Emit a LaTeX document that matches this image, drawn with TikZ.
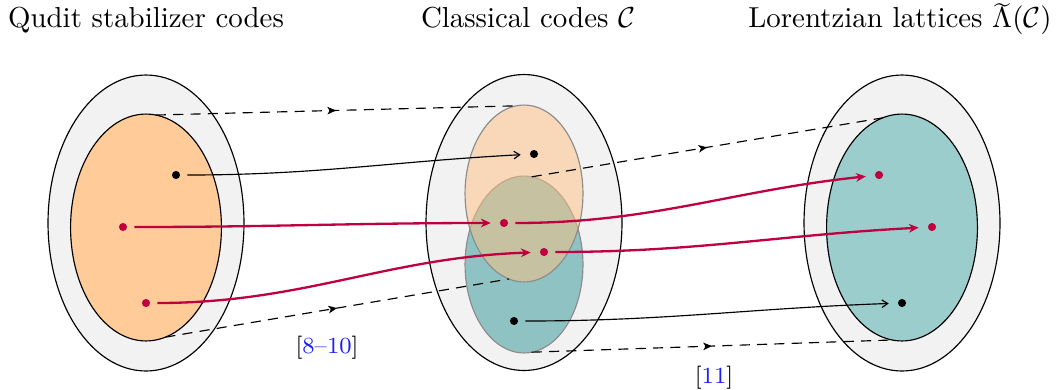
\documentclass[tikz,border=0pt]{standalone}
\usetikzlibrary{shapes.geometric,arrows.meta,decorations.markings}
\definecolor{orangeA}{RGB}{254,203,153}
\definecolor{tealA}{RGB}{155,205,205}
\definecolor{tealM}{RGB}{143,195,195}
\definecolor{orangeM}{RGB}{254,192,128}
\definecolor{outerG}{RGB}{242,242,242}
\definecolor{linkred}{RGB}{191,0,64}
\definecolor{citeblue}{RGB}{30,30,255}
\begin{document}
\begin{tikzpicture}[x=0.346pt,y=-0.346pt,
 region/.style={ellipse, draw=black, line width=0.4pt, inner sep=0pt, outer sep=0pt},
 outerreg/.style={region, fill=outerG, minimum width=67.8pt, minimum height=102.4pt},
 innerreg/.style={region, minimum width=52.2pt, minimum height=78.5pt},
 midreg/.style={region, draw=black!45, minimum width=40.8pt, minimum height=61.2pt},
 dotnode/.style={circle, inner sep=0pt, outer sep=0pt, minimum size=2.8pt},
 bdot/.style={dotnode, fill=black},
 rdot/.style={dotnode, fill=linkred},
 blink/.style={-{Straight Barb[length=2pt,width=2.6pt]}, shorten <=2.5pt, shorten >=3.2pt, line width=0.4pt},
 rlink/.style={-{Stealth[length=3.4pt,width=3pt,inset=1.1pt]}, draw=linkred, line width=0.8pt, shorten <=2.5pt, shorten >=3.2pt},
 embed/.style={dash pattern=on 3.5pt off 2.5pt, line width=0.4pt, postaction={decorate},
   decoration={markings, mark=at position 0.5 with {\arrow{Stealth[length=3pt,width=2.6pt,inset=0.8pt]}}}},
 titletext/.style={anchor=base, inner sep=0pt},
 citetext/.style={inner sep=0pt, font=\footnotesize}]
\useasboundingbox (0,0) rectangle (1056,389);

% titles
\node[titletext] (t1) at (146,27) {Qudit stabilizer codes};
\node[titletext] (t2) at (528,27) {Classical codes $\mathcal{C}$};
\node[titletext] (t3) at (900,27) {Lorentzian lattices $\Lambda\llap{\raisebox{-1.7pt}{$\widetilde{\phantom{\Lambda}}$}}(\mathcal{C})$};

% left
\node[outerreg] (Lout) at (146,223) {};
\node[innerreg, fill=orangeA] (Lin) at (146,227.5) {};
% middle
\node[outerreg] (Mout) at (524,222.5) {};
\node[midreg, fill=tealM] (Mteal) at (524,264.5) {};
\node[midreg, fill=orangeM, fill opacity=0.5] (Morange) at (524,193.5) {};
% right
\node[outerreg] (Rout) at (902,223) {};
\node[innerreg, fill=tealA] (Rin) at (902,227.5) {};

% dashed embeddings
\draw[embed] (Lin.85) -- (Morange.95);
\draw[embed] (Lin.-80) -- (Morange.-100);
\draw[embed] (Mteal.85) -- (Rin.100);
\draw[embed] (Mteal.-85) -- (Rin.-95);

% dots
\node[bdot] (l1) at (176,175) {};
\node[rdot] (l2) at (123,227) {};
\node[rdot] (l3) at (146,303) {};
\node[bdot] (m1) at (534,154) {};
\node[rdot] (m2) at (504,223) {};
\node[rdot] (m3) at (544,252) {};
\node[bdot] (m4) at (514,321) {};
\node[rdot] (r1) at (879,175) {};
\node[rdot] (r2) at (932,227) {};
\node[bdot] (r3) at (902,303) {};

% maps
\draw[blink] (l1) to[out=0,in=183] (m1);
\draw[rlink] (l2) to[out=0,in=180] (m2);
\draw[rlink] (l3) to[out=0,in=182] (m3);
\draw[rlink] (m2) to[out=0,in=186] (r1);
\draw[rlink] (m3) to[out=0,in=183] (r2);
\draw[blink] (m4) to[out=0,in=182] (r3);

% citations
\node[citetext] (c1) at (327,348) {[\textcolor{citeblue}{8--10}]};
\node[citetext] (c2) at (714,378) {[\textcolor{citeblue}{11}]};
\end{tikzpicture}
\end{document}
